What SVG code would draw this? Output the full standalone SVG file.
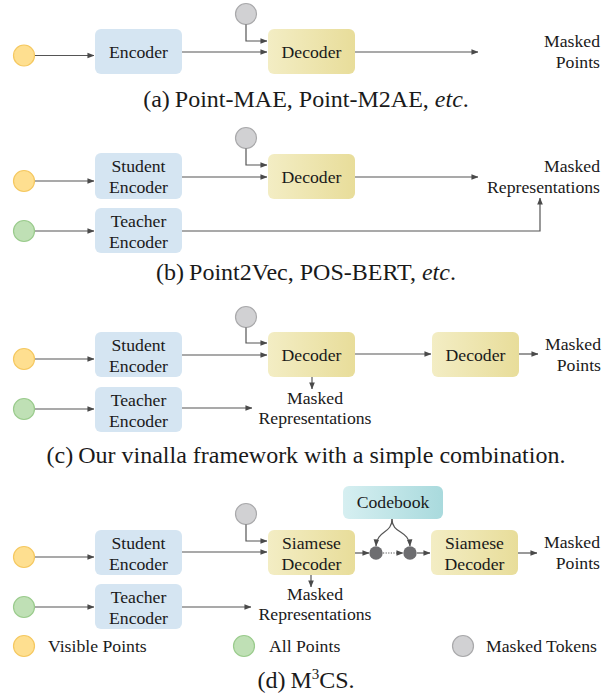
<svg xmlns="http://www.w3.org/2000/svg" width="611" height="696" viewBox="0 0 611 696">
<defs>
<linearGradient id="gdec" x1="0" y1="0" x2="1" y2="0"><stop offset="0" stop-color="#f3edc4"/><stop offset="1" stop-color="#e8dd9a"/></linearGradient>
<linearGradient id="gcb" x1="0" y1="0" x2="1" y2="0"><stop offset="0" stop-color="#d6eff1"/><stop offset="1" stop-color="#a9dadd"/></linearGradient>
<marker id="ah" viewBox="0 0 8 8" refX="7.5" refY="4" markerWidth="7" markerHeight="7" markerUnits="userSpaceOnUse" orient="auto"><path d="M0,0.8 L8,4 L0,7.2 z" fill="#4a4a4a"/></marker>
<style>
text{font-family:"Liberation Serif","Times New Roman",serif;fill:#1a1a1a}
.lbl{font-size:17.7px;text-anchor:middle}
.out{font-size:17.7px;text-anchor:end}
.mid{font-size:17.7px;text-anchor:middle}
.leg{font-size:17.7px}
.cap{font-size:24px;text-anchor:middle}
.enc{fill:#d5e5f2}
.dec{fill:url(#gdec)}
.cb{fill:url(#gcb)}
.yel{fill:#fedf90;stroke:#f5c860;stroke-width:1.2}
.grn{fill:#bfe0b5;stroke:#9acb8c;stroke-width:1.2}
.gry{fill:#d1d1d3;stroke:#a9a9ab;stroke-width:1.2}
.dot{fill:#6d6d70}
.c{fill:none;stroke:#555;stroke-width:1.2}
.a{marker-end:url(#ah)}
.dash{stroke-dasharray:1.2 1.4}
</style>
</defs>

<!-- Panel (a) -->
<g id="a-visible"><circle class="yel" cx="24" cy="55.5" r="10.5"/></g>
<g id="a-encoder"><rect class="enc" x="95" y="29" width="87" height="45" rx="6"/><text class="lbl" x="138.5" y="58">Encoder</text></g>
<g id="a-mask"><circle class="gry" cx="246" cy="14" r="10.5"/></g>
<g id="a-decoder"><rect class="dec" x="268" y="29" width="87" height="45" rx="6"/><text class="lbl" x="311.5" y="58">Decoder</text></g>
<g id="a-out"><text class="out" x="600" y="47">Masked</text><text class="out" x="600" y="68">Points</text></g>
<text class="cap" x="306" y="107">(a)<tspan dx="5">Point-MAE, Point-M2AE, </tspan><tspan font-style="italic">etc</tspan>.</text>

<!-- Panel (b) -->
<g id="b-visible"><circle class="yel" cx="24" cy="181" r="10.5"/></g>
<g id="b-all"><circle class="grn" cx="24" cy="231" r="10.5"/></g>
<g id="b-student"><rect class="enc" x="95" y="153" width="87" height="46" rx="6"/><text class="lbl" x="138.5" y="172">Student</text><text class="lbl" x="138.5" y="193">Encoder</text></g>
<g id="b-teacher"><rect class="enc" x="95" y="208" width="87" height="45" rx="6"/><text class="lbl" x="138.5" y="227">Teacher</text><text class="lbl" x="138.5" y="248">Encoder</text></g>
<g id="b-mask"><circle class="gry" cx="246" cy="138" r="10.5"/></g>
<g id="b-decoder"><rect class="dec" x="268" y="154" width="87" height="45" rx="6"/><text class="lbl" x="311.5" y="183">Decoder</text></g>
<g id="b-out"><text class="out" x="600" y="172">Masked</text><text class="out" x="600" y="193">Representations</text></g>
<text class="cap" x="306" y="280">(b)<tspan dx="5">Point2Vec, POS-BERT, </tspan><tspan font-style="italic">etc</tspan>.</text>

<!-- Panel (c) -->
<g id="c-visible"><circle class="yel" cx="24" cy="359" r="10.5"/></g>
<g id="c-all"><circle class="grn" cx="24" cy="409" r="10.5"/></g>
<g id="c-student"><rect class="enc" x="95" y="332" width="87" height="45" rx="6"/><text class="lbl" x="138.5" y="351">Student</text><text class="lbl" x="138.5" y="372">Encoder</text></g>
<g id="c-teacher"><rect class="enc" x="95" y="387" width="87" height="45" rx="6"/><text class="lbl" x="138.5" y="406">Teacher</text><text class="lbl" x="138.5" y="427">Encoder</text></g>
<g id="c-mask"><circle class="gry" cx="246" cy="317" r="10.5"/></g>
<g id="c-decoder"><rect class="dec" x="268" y="332" width="87" height="45" rx="6"/><text class="lbl" x="311.5" y="361">Decoder</text></g>
<g id="c-rep"><text class="mid" x="315" y="404">Masked</text><text class="mid" x="315" y="424">Representations</text></g>
<g id="c-decoder2"><rect class="dec" x="432" y="332" width="87" height="45" rx="6"/><text class="lbl" x="475.5" y="361">Decoder</text></g>
<g id="c-out"><text class="out" x="601" y="350">Masked</text><text class="out" x="601" y="371">Points</text></g>
<text class="cap" x="306" y="463">(c)<tspan dx="5">Our vinalla framework with a simple combination.</tspan></text>

<!-- Panel (d) -->
<g id="d-visible"><circle class="yel" cx="24" cy="557" r="10.5"/></g>
<g id="d-all"><circle class="grn" cx="24" cy="607" r="10.5"/></g>
<g id="d-student"><rect class="enc" x="95" y="530" width="87" height="45" rx="6"/><text class="lbl" x="138.5" y="549">Student</text><text class="lbl" x="138.5" y="570">Encoder</text></g>
<g id="d-teacher"><rect class="enc" x="95" y="584" width="87" height="45" rx="6"/><text class="lbl" x="138.5" y="603">Teacher</text><text class="lbl" x="138.5" y="624">Encoder</text></g>
<g id="d-mask"><circle class="gry" cx="246" cy="514" r="10.5"/></g>
<g id="d-siamese1"><rect class="dec" x="268" y="530" width="87" height="45" rx="6"/><text class="lbl" x="311.5" y="548.5">Siamese</text><text class="lbl" x="311.5" y="569.5">Decoder</text></g>
<g id="d-rep"><text class="mid" x="315" y="600">Masked</text><text class="mid" x="315" y="620">Representations</text></g>
<g id="d-codebook"><rect class="cb" x="343" y="486" width="100" height="33" rx="6"/><text class="lbl" x="393" y="508">Codebook</text></g>
<g id="d-dot1"><circle class="dot" cx="376" cy="553" r="6.7"/></g>
<g id="d-dot2"><circle class="dot" cx="410" cy="553" r="6.7"/></g>
<g id="d-siamese2"><rect class="dec" x="431" y="530" width="87" height="45" rx="6"/><text class="lbl" x="474.5" y="548.5">Siamese</text><text class="lbl" x="474.5" y="569.5">Decoder</text></g>
<g id="d-out"><text class="out" x="600" y="548">Masked</text><text class="out" x="600" y="569">Points</text></g>

<!-- Legend -->
<g id="legend">
<circle class="yel" cx="24" cy="646" r="10.5"/><text class="leg" x="48" y="652">Visible Points</text>
<circle class="grn" cx="244" cy="646" r="10.5"/><text class="leg" x="269" y="652">All Points</text>
<circle class="gry" cx="463" cy="646" r="10.5"/><text class="leg" x="486" y="652">Masked Tokens</text>
</g>
<text class="cap" x="306" y="688">(d)<tspan dx="5">M</tspan><tspan font-size="15" dy="-9">3</tspan><tspan dy="9">CS.</tspan></text>

<!-- Connectors -->
<g id="connectors">
<!-- a -->
<path class="c a" d="M35,55.5 H94"/>
<path class="c a" d="M182,52 H267"/>
<path class="c a" d="M246,24.5 V41 H267"/>
<path class="c a" d="M355,52 H478"/>
<!-- b -->
<path class="c a" d="M35,181 H94"/>
<path class="c a" d="M35,231 H94"/>
<path class="c a" d="M182,177 H267"/>
<path class="c a" d="M246,148.5 V165 H267"/>
<path class="c a" d="M355,177 H478"/>
<path class="c a" d="M182,231 H540 V198"/>
<!-- c -->
<path class="c a" d="M35,359 H94"/>
<path class="c a" d="M35,409 H94"/>
<path class="c a" d="M182,355 H267"/>
<path class="c a" d="M246,327.5 V343 H267"/>
<path class="c a" d="M312,377 V389"/>
<path class="c a" d="M182,408 H252"/>
<path class="c a" d="M355,354 H431"/>
<path class="c a" d="M519,354 H538"/>
<!-- d -->
<path class="c a" d="M35,557 H94"/>
<path class="c a" d="M35,607 H94"/>
<path class="c a" d="M182,552 H267"/>
<path class="c a" d="M246,524.5 V541 H267"/>
<path class="c a" d="M311,575 V587"/>
<path class="c a" d="M182,607 H251"/>
<path class="c a" d="M355,553 H369"/>
<path class="c a dash" d="M383,553 H403"/>
<path class="c a" d="M417,553 H430"/>
<path class="c a" d="M518,553 H537"/>
<path class="c a" d="M392,519 C392,534 377,530 376,546"/>
<path class="c a" d="M392,519 C392,534 409,530 410,546"/>
</g>
</svg>
